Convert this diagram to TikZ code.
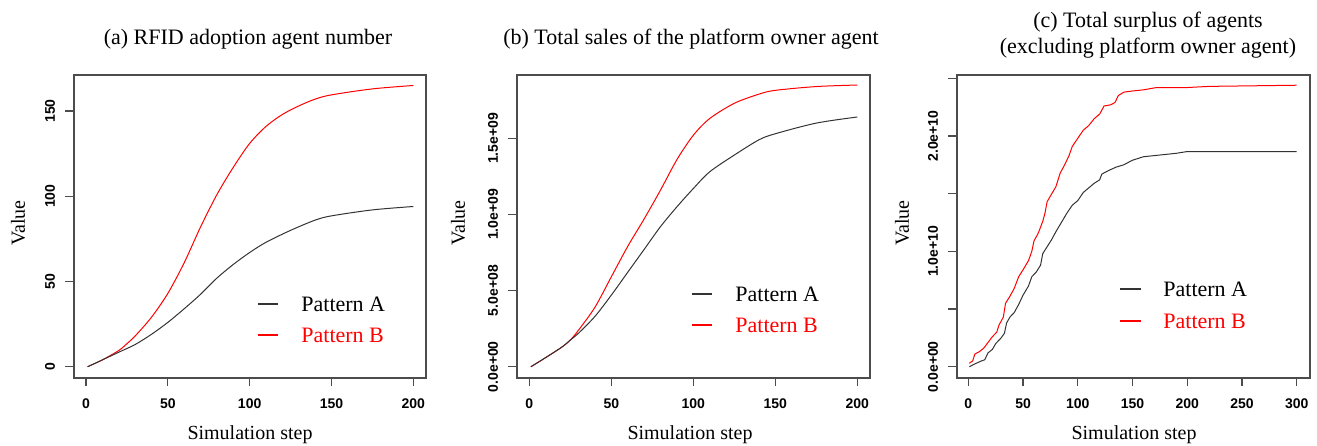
\documentclass[tikz,border=0pt]{standalone}
\usepackage{fontspec}
\setmainfont{Liberation Serif}
\newfontfamily\ticksans{Liberation Sans}
\usetikzlibrary{positioning}

\begin{document}
\begin{tikzpicture}[x=0.5pt,y=-0.5pt]

\tikzstyle{plotbox}=[draw=black!70,line width=0.8pt]
\tikzstyle{tickmark}=[draw=black!70,line width=0.6pt]
\tikzstyle{ticklabel}=[inner sep=0pt,font=\ticksans\bfseries\fontsize{7}{8}\selectfont]
\tikzstyle{axislabel}=[inner sep=0pt,font=\fontsize{10}{12}\selectfont]
\tikzstyle{plottitle}=[inner sep=0pt,align=center,font=\fontsize{11}{13}\selectfont]
\tikzstyle{legendtext}=[inner sep=0pt,font=\fontsize{11}{13}\selectfont]
\tikzstyle{patA}=[color=black!80,line width=0.5pt]
\tikzstyle{patB}=[color=red,line width=0.5pt]
\tikzstyle{legline}=[line width=0.75pt]

\useasboundingbox (0,0) rectangle (1317,445);

%% Panel (a)
\node[plottitle] (titleA) at (248,39) {(a) RFID adoption agent number};
\draw[plotbox] (74,75) rectangle (426,378);
\foreach \v in {0,50,...,200} {
    \pgfmathsetmacro\px{86+\v*1.6367}
    \draw[tickmark] (\px,378) -- (\px,386);
    \node[ticklabel] (xa\v) at (\px,404) {\v};
}
\foreach \v in {0,50,...,150} {
    \pgfmathsetmacro\py{366.7-\v*1.7044}
    \draw[tickmark] (74,\py) -- (65,\py);
    \node[ticklabel,rotate=90] (ya\v) at (50,\py) {\v};
}
\node[axislabel] (xlabA) at (250,435) {Simulation step};
\node[axislabel,rotate=90] (ylabA) at (18,223) {Value};

\begin{scope}[shift={(86,366.7)},x=0.81835pt,y=0.8522pt]
\draw[patB] plot[smooth] coordinates {(1,0) (10,4) (20,9.5) (25,13.5) (30,18)
    (40,29) (50,43) (60,61) (70,82) (80,101) (90,117) (100,131) (110,141)
    (120,148) (130,153) (140,157) (150,159.5) (175,163) (200,165)};
\draw[patA] plot[smooth] coordinates {(1,0) (10,4) (20,8.5) (30,13) (40,19)
    (50,26) (60,34) (70,42.5) (80,52) (90,60) (100,67) (110,73) (125,80)
    (140,86) (150,88.5) (175,92) (200,94)};
\end{scope}

\coordinate (legA1) at (258,304);
\coordinate (legA2) at (278,304);
\coordinate (legA3) at (258,335);
\coordinate (legA4) at (278,335);
\node[legendtext,right=23 of legA2] (legtxtA1) {Pattern A};
\node[legendtext,right=23 of legA4,text=red] (legtxtA2) {Pattern B};
\draw[patA,legline] (legA1) -- (legA2);
\draw[patB,legline] (legA3) -- (legA4);

%% Panel (b)
\node[plottitle] (titleB) at (691,39) {(b) Total sales of the platform owner agent};
\draw[plotbox] (517,75) rectangle (870,378);
\foreach \v in {0,50,...,200} {
    \pgfmathsetmacro\px{529.3+\v*1.64}
    \draw[tickmark] (\px,378) -- (\px,386);
    \node[ticklabel] (xb\v) at (\px,404) {\v};
}
\foreach \v/\lab in {0/0.0e+00,1/5.0e+08,2/1.0e+09,3/1.5e+09} {
    \pgfmathsetmacro\py{366.7-\v*76.13}
    \draw[tickmark] (517,\py) -- (508,\py);
    \node[ticklabel,rotate=90] (yb\v) at (493,\py) {\lab};
}
\node[axislabel] (xlabB) at (690,435) {Simulation step};
\node[axislabel,rotate=90] (ylabB) at (458,223) {Value};

\begin{scope}[shift={(529.3,366.7)},x=0.82pt,y=7.613pt]
\draw[patB] plot[smooth] coordinates {(1,0) (10,0.6) (20,1.3) (25,1.75) (30,2.4)
    (40,3.9) (50,5.9) (60,7.9) (70,9.7) (80,11.6) (90,13.6) (100,15.2)
    (110,16.3) (125,17.3) (140,17.9) (150,18.15) (175,18.4) (200,18.5)};
\draw[patA] plot[smooth] coordinates {(1,0) (10,0.6) (20,1.3) (25,1.75) (30,2.2)
    (40,3.3) (50,4.7) (60,6.2) (70,7.7) (80,9.2) (90,10.5) (100,11.7)
    (110,12.8) (125,13.9) (140,14.9) (150,15.3) (175,16.0) (200,16.4)};
\end{scope}

\coordinate (legB1) at (692,294);
\coordinate (legB2) at (712,294);
\coordinate (legB3) at (692,325);
\coordinate (legB4) at (712,325);
\node[legendtext,right=23 of legB2] (legtxtB1) {Pattern A};
\node[legendtext,right=23 of legB4,text=red] (legtxtB2) {Pattern B};
\draw[patA,legline] (legB1) -- (legB2);
\draw[patB,legline] (legB3) -- (legB4);

%% Panel (c)
\node[plottitle] (titleC) at (1148,35) {(c) Total surplus of agents\\(excluding platform owner agent)};
\draw[plotbox] (957,75) rectangle (1310,378);
\foreach \v in {0,50,...,300} {
    \pgfmathsetmacro\px{968.3+\v*1.0947}
    \draw[tickmark] (\px,378) -- (\px,386);
    \node[ticklabel] (xc\v) at (\px,404) {\v};
}
\foreach \v in {0,...,5} {
    \pgfmathsetmacro\py{366.7-\v*57.68}
    \draw[tickmark] (957,\py) -- (948,\py);
}
\foreach \v/\lab in {0/0.0e+00,2/1.0e+10,4/2.0e+10} {
    \pgfmathsetmacro\py{366.7-\v*57.68}
    \node[ticklabel,rotate=90] (yc\v) at (933,\py) {\lab};
}
\node[axislabel] (xlabC) at (1134,435) {Simulation step};
\node[axislabel,rotate=90] (ylabC) at (902,223) {Value};

\begin{scope}[shift={(968.3,366.7)},x=0.54735pt,y=5.768pt]
\draw[patB] plot coordinates {(1,0.3) (4,0.5) (6,1.1) (10,1.3) (14,1.6) (18,2.1)
    (22,2.6) (26,3.0) (28,3.6) (32,4.3) (34,5.5) (38,6.1) (42,6.8) (46,7.8)
    (50,8.4) (55,9.2) (58,10.0) (60,10.9) (64,11.6) (68,12.6) (70,13.3)
    (72,14.3) (75,14.8) (80,15.6) (84,16.8) (88,17.5) (92,18.3) (95,19.1)
    (100,19.8) (105,20.5) (110,20.9) (115,21.5) (120,21.9) (124,22.6)
    (130,22.7) (134,22.9) (137,23.5) (142,23.8) (150,23.9) (160,24.0)
    (172,24.2) (200,24.2) (220,24.3) (300,24.4)};
\draw[patA] plot coordinates {(1,0) (5,0.2) (12,0.5) (15,0.6) (18,1.2) (22,1.5)
    (25,2.0) (30,2.5) (33,2.9) (35,3.8) (38,4.3) (42,4.7) (46,5.4) (50,6.2)
    (55,7.0) (58,7.8) (62,8.2) (66,8.8) (68,9.8) (72,10.4) (76,11.0)
    (80,11.7) (85,12.5) (90,13.3) (95,14.0) (100,14.4) (105,15.1) (110,15.5)
    (115,15.9) (120,16.2) (122,16.7) (128,17.0) (135,17.3) (142,17.5)
    (150,17.9) (160,18.2) (175,18.35) (190,18.5) (200,18.65) (300,18.65)};
\end{scope}

\coordinate (legC1) at (1120,289);
\coordinate (legC2) at (1141,289);
\coordinate (legC3) at (1120,321);
\coordinate (legC4) at (1141,321);
\node[legendtext,right=22 of legC2] (legtxtC1) {Pattern A};
\node[legendtext,right=22 of legC4,text=red] (legtxtC2) {Pattern B};
\draw[patA,legline] (legC1) -- (legC2);
\draw[patB,legline] (legC3) -- (legC4);

\end{tikzpicture}
\end{document}
